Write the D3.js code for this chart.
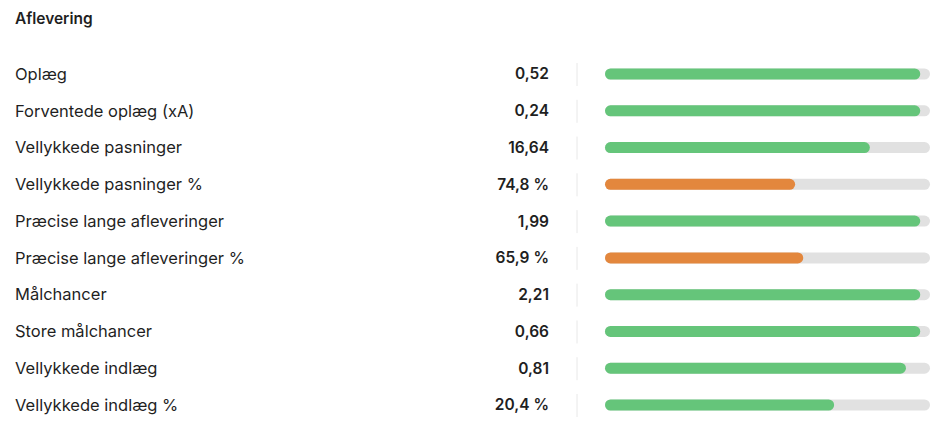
<!DOCTYPE html>
<html>
<head>
<meta charset="utf-8">
<script src="https://cdn.jsdelivr.net/npm/d3@7"></script>
<style>
  body { margin: 0; background: #fff; }
  svg text { font-family: Inter, "Noto Sans", sans-serif; fill: #1f1f1f; }
</style>
</head>
<body>
<div id="chart"></div>
<script>
var title = "Aflevering";
var metrics = ["Oplæg", "Forventede oplæg (xA)", "Vellykkede pasninger", "Vellykkede pasninger %",
  "Præcise lange afleveringer", "Præcise lange afleveringer %", "Målchancer", "Store målchancer",
  "Vellykkede indlæg", "Vellykkede indlæg %"];
var valueLabels = ["0,52", "0,24", "16,64", "74,8 %", "1,99", "65,9 %", "2,21", "0,66", "0,81", "20,4 %"];
// percentile rank shown by the bar
var percentiles = [97, 97, 81.5, 58.5, 97, 61, 97, 97, 92.6, 70.5];

var width = 950, height = 433;
var green = "#65c57a", orange = "#e3873d", track = "#e1e1e1";

var svg = d3.select("#chart").append("svg")
  .attr("width", width)
  .attr("height", height);

svg.append("text")
  .attr("x", 15)
  .attr("y", 24)
  .style("font-size", "15.5px")
  .style("font-weight", 600)
  .text(title);

var y = d3.scalePoint().domain(d3.range(metrics.length)).range([74, 405]);
var x = d3.scaleLinear().domain([0, 100]).range([605, 930]);
var barH = 11;

var rows = svg.selectAll("g.row").data(metrics).enter()
  .append("g")
    .attr("class", "row")
    .attr("transform", (d, i) => "translate(0," + y(i) + ")");

rows.append("text")
  .attr("x", 15)
  .attr("dy", "0.35em")
  .style("font-size", "16.5px")
  .text(d => d);

rows.append("text")
  .attr("x", 549)
  .attr("dy", "0.35em")
  .attr("text-anchor", "end")
  .style("font-size", "15.5px")
  .style("font-weight", 600)
  .text((d, i) => valueLabels[i]);

rows.append("line")
  .attr("x1", 577).attr("x2", 577)
  .attr("y1", -11).attr("y2", 12)
  .attr("stroke", "#e8e8e8")
  .attr("stroke-width", 1);

rows.append("rect")
  .attr("x", x(0))
  .attr("y", -barH / 2)
  .attr("width", x(100) - x(0))
  .attr("height", barH)
  .attr("rx", barH / 2)
  .attr("fill", track);

rows.append("rect")
  .attr("x", x(0))
  .attr("y", -barH / 2)
  .attr("width", (d, i) => x(percentiles[i]) - x(0))
  .attr("height", barH)
  .attr("rx", barH / 2)
  .attr("fill", (d, i) => percentiles[i] < 65 ? orange : green);
</script>
</body>
</html>
